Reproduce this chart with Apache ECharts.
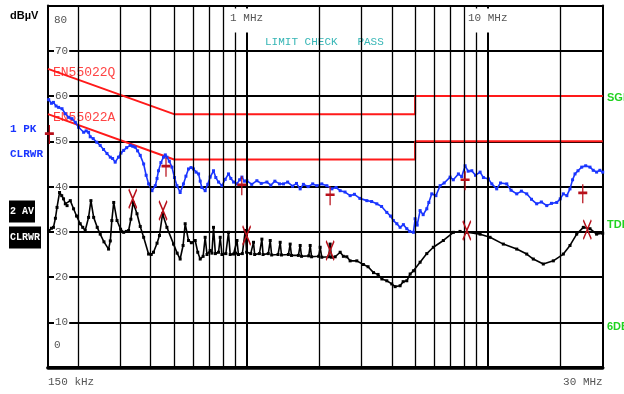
<!DOCTYPE html>
<html>
<head>
<meta charset="utf-8">
<script src="https://cdn.jsdelivr.net/npm/echarts@6/dist/echarts.min.js"></script>
<style>
  html, body { margin: 0; padding: 0; background: #fff; }
  #chart { width: 624px; height: 394px; }
</style>
</head>
<body>
<div id="chart"></div>
<script>
// Frequency in MHz, level in dBµV
const peakTrace = [
  [0.151,59.2],[0.155,58.4],[0.158,58.6],[0.162,57.8],[0.166,57.5],[0.1715,57.2],[0.177,56.1],[0.1826,55.3],
  [0.1887,55.0],[0.1947,54.2],[0.201,53.1],[0.2108,52.0],[0.216,52.3],[0.221,52.0],[0.2245,51.0],[0.231,50.6],
  [0.239,49.8],[0.247,49.1],[0.255,48.2],[0.2635,47.3],[0.272,46.5],[0.278,46.2],[0.285,45.4],[0.294,46.5],
  [0.301,47.4],[0.309,48.0],[0.318,48.6],[0.329,49.1],[0.337,48.9],[0.345,48.7],[0.353,47.9],[0.362,46.9],
  [0.374,45.0],[0.383,42.5],[0.392,40.6],[0.405,39.1],[0.418,40.2],[0.425,41.8],[0.431,43.5],[0.441,45.3],
  [0.452,46.5],[0.46,47.0],[0.467,46.5],[0.478,45.6],[0.490,44.3],[0.502,42.0],[0.514,40.2],[0.530,38.7],
  [0.547,40.6],[0.56,42.3],[0.574,43.9],[0.588,44.2],[0.602,43.9],[0.617,43.2],[0.632,42.8],[0.642,41.2],
  [0.652,39.8],[0.673,39.1],[0.69,40.5],[0.706,42.1],[0.729,43.5],[0.745,42.0],[0.765,41.0],[0.790,40.2],
  [0.815,41.6],[0.841,42.8],[0.86,41.8],[0.883,41.0],[0.912,40.6],[0.935,41.5],[0.956,42.1],[0.98,41.2],
  [1.002,41.3],[1.05,40.5],[1.103,41.3],[1.15,40.7],[1.214,41.0],[1.26,40.3],[1.31,41.2],[1.37,40.6],
  [1.422,40.6],[1.48,41.0],[1.55,40.1],[1.61,40.7],[1.668,39.5],[1.72,40.5],[1.8,40.0],[1.88,40.6],
  [1.956,40.2],[2.05,40.6],[2.152,40.2],[2.258,39.5],[2.35,39.8],[2.444,39.1],[2.56,38.8],[2.688,38.0],
  [2.8,38.3],[2.95,37.4],[3.153,36.9],[3.3,36.7],[3.468,36.2],[3.63,35.6],[3.815,34.3],[3.95,33.5],
  [4.063,32.5],[4.2,31.8],[4.332,31.0],[4.47,31.6],[4.618,30.7],[4.75,30.1],[4.92,29.9],[5.0,32.9],
  [5.1,31.5],[5.244,34.7],[5.4,33.8],[5.59,35.1],[5.7,36.5],[5.862,38.4],[6.1,38.0],[6.348,40.2],
  [6.6,40.8],[6.984,42.1],[7.2,41.5],[7.56,42.8],[7.8,42.2],[8.06,44.6],[8.3,43.4],[8.59,43.5],
  [8.9,42.5],[9.3,43.2],[9.6,42.0],[10.07,41.7],[10.4,40.6],[10.9,39.5],[11.3,40.8],[12.0,40.6],
  [12.5,39.2],[13.2,38.4],[13.8,39.0],[14.52,38.4],[15.2,37.2],[15.97,36.2],[16.7,36.6],[17.58,35.8],
  [18.4,36.3],[19.34,36.5],[20.0,37.3],[20.6,38.4],[21.3,38.0],[21.95,39.5],[22.5,41.5],[23.03,42.8],
  [23.7,43.5],[24.55,44.3],[25.5,44.6],[26.57,44.3],[27.4,43.6],[28.3,43.2],[29.2,43.6],[30,43.2]
];

const avgTrace = [
  [0.1515,30.3],[0.155,30.8],[0.158,31.0],[0.161,33.0],[0.1635,35.4],[0.1675,38.7],[0.171,38.0],[0.174,37.3],
  [0.177,36.2],[0.180,35.8],[0.1856,36.9],[0.1915,35.1],[0.197,33.5],[0.204,31.8],[0.209,31.0],[0.214,30.3],
  [0.221,33.2],[0.226,36.9],[0.232,33.2],[0.24,31.0],[0.247,29.5],[0.256,27.8],[0.2675,26.2],[0.272,28.0],
  [0.276,32.5],[0.281,36.5],[0.290,32.5],[0.30,30.6],[0.309,29.9],[0.317,30.1],[0.324,30.3],[0.331,32.8],
  [0.338,36.5],[0.351,34.0],[0.362,31.2],[0.374,28.8],[0.392,25.1],[0.402,25.0],[0.411,25.5],[0.425,27.5],
  [0.435,29.2],[0.448,34.0],[0.467,31.0],[0.4976,27.3],[0.515,25.3],[0.530,24.0],[0.545,27.0],[0.556,31.8],
  [0.574,28.1],[0.59,27.6],[0.612,28.1],[0.627,25.5],[0.642,24.0],[0.66,24.6],[0.673,28.8],[0.685,25.0],
  [0.706,25.9],[0.718,25.3],[0.729,31.0],[0.742,25.2],[0.765,25.5],[0.777,28.8],[0.79,25.0],[0.82,25.2],
  [0.841,29.9],[0.855,25.0],[0.883,25.1],[0.9,25.3],[0.912,28.1],[0.925,25.0],[0.96,25.2],[0.987,30.3],
  [1.0,25.5],[1.04,25.2],[1.068,27.7],[1.08,25.0],[1.13,25.2],[1.157,28.4],[1.17,25.0],[1.23,25.2],
  [1.253,28.1],[1.27,24.9],[1.35,25.0],[1.378,27.7],[1.395,24.9],[1.49,25.0],[1.516,27.3],[1.535,24.8],
  [1.64,24.8],[1.668,27.0],[1.69,24.6],[1.81,24.7],[1.835,27.0],[1.86,24.5],[1.99,24.6],[2.019,26.6],
  [2.05,24.4],[2.19,24.5],[2.22,27.3],[2.25,24.4],[2.33,24.5],[2.444,25.5],[2.52,24.6],[2.604,24.5],
  [2.688,23.6],[2.865,23.6],[3.05,22.8],[3.19,22.3],[3.36,21.0],[3.51,20.6],[3.64,19.6],[3.815,19.2],
  [4.0,18.5],[4.13,17.9],[4.332,18.1],[4.46,19.0],[4.618,19.2],[4.77,20.7],[4.92,21.4],[5.244,23.3],
  [5.59,25.2],[5.95,26.6],[6.549,28.1],[7.21,29.9],[7.68,30.1],[8.19,29.9],[9.30,29.5],[10.23,28.8],
  [11.61,27.3],[13.2,26.2],[14.52,25.1],[15.46,24.0],[17.01,22.9],[18.72,23.6],[20.6,25.1],[21.95,27.0],
  [23.4,29.5],[24.93,31.0],[26.57,30.7],[28.3,29.5],[30,29.7]
];

// EN55022 class B limit lines
const limitQP = [[0.15,66],[0.5,56],[5,56],[5,60],[30,60]];
const limitAV = [[0.15,56],[0.5,46],[5,46],[5,50],[30,50]];

// Final measurement markers
const qpMarks = [[0.152,51.5],[0.463,44.3],[0.955,40.2],[2.22,38.0],[8.06,41.3],[24.8,38.4]];
const avMarks = [[0.337,37.3],[0.450,34.7],[1.00,29.2],[2.22,25.9],[8.19,30.3],[25.9,30.5]];

// Frequency grid
const minorGrid = [0.2,0.3,0.4,0.5,0.6,0.7,0.8,0.9,2,3,4,5,6,7,8,9,20];
const decadeGrid = [1,10];

const MONO = '"Liberation Mono", "DejaVu Sans Mono", monospace';
const near = (a, b) => Math.abs(a - b) < 1e-6 * Math.max(1, b);

const chart = echarts.init(document.getElementById('chart'), null, { renderer: 'canvas' });

const gridLines = minorGrid.map(f => ({ xAxis: f, lineStyle: { color: '#000', width: 1.3, type: 'solid' } }))
  .concat(decadeGrid.map(f => ({ xAxis: f, lineStyle: { color: '#000', width: 2, type: 'solid' } })));

chart.setOption({
  animation: false,
  backgroundColor: '#fff',
  grid: { left: 48, right: 21.3, top: 5.5, bottom: 26.3, containLabel: false, outerBoundsMode: 'none' },
  xAxis: [
    {
      type: 'log', logBase: 10, min: 0.15, max: 30, position: 'bottom',
      axisLine: { show: true, lineStyle: { color: '#000', width: 3.5 } },
      axisTick: { show: false },
      splitLine: { show: false },
      axisLabel: {
        show: true, showMinLabel: true, showMaxLabel: true, margin: 9,
        color: '#555', fontFamily: MONO, fontSize: 11,
        alignMinLabel: 'left', alignMaxLabel: 'right',
        formatter: v => near(v, 0.15) ? '150 kHz' : near(v, 30) ? '30 MHz' : ''
      }
    },
    {
      type: 'log', logBase: 10, min: 0.15, max: 30, position: 'top', z: 10,
      axisLine: { show: true, lineStyle: { color: '#000', width: 3 } },
      axisTick: { show: false },
      splitLine: { show: false },
      axisLabel: {
        show: true, inside: true, margin: 3,
        color: '#555', fontFamily: MONO, fontSize: 11,
        formatter: v => near(v, 1) ? '{m|1 MHz}' : near(v, 10) ? '{m|10 MHz}' : '',
        rich: { m: { backgroundColor: '#fff', padding: [4, 2, 9, 2], color: '#555', fontFamily: MONO, fontSize: 11 } }
      }
    }
  ],
  yAxis: [
    {
      type: 'value', min: 0, max: 80, interval: 10, position: 'left',
      axisLine: { show: true, lineStyle: { color: '#000', width: 2 } },
      axisTick: { show: false },
      splitLine: { show: true, lineStyle: { color: '#000', width: 2 } },
      axisLabel: {
        show: true, inside: true, margin: 6, color: '#555', fontFamily: MONO, fontSize: 11, lineHeight: 15,
        formatter: v => v === 80 ? '\n\n80' : v === 0 ? '0\n\n\n' : '{n|' + v + '}',
        rich: { n: { backgroundColor: '#fff', padding: [0, 1], color: '#555', fontFamily: MONO, fontSize: 11 } }
      }
    },
    {
      type: 'value', min: 0, max: 80, interval: 10, position: 'right',
      axisLine: { show: true, lineStyle: { color: '#000', width: 2 } },
      axisTick: { show: false }, axisLabel: { show: false }, splitLine: { show: false }
    }
  ],
  series: [
    {
      name: 'grid', type: 'line', data: [], z: 1, silent: true,
      markLine: { silent: true, symbol: ['none', 'none'], label: { show: false }, animation: false,
        lineStyle: { type: 'solid' }, data: gridLines }
    },
    {
      name: 'EN55022Q', type: 'line', data: limitQP, z: 2, showSymbol: false, silent: true,
      lineStyle: { color: '#ff1a1a', width: 2 }
    },
    {
      name: 'EN55022A', type: 'line', data: limitAV, z: 2, showSymbol: false, silent: true,
      lineStyle: { color: '#ff1a1a', width: 2 }
    },
    {
      name: '1 PK', type: 'line', data: peakTrace, z: 3, silent: true,
      showSymbol: true, symbol: 'rect', symbolSize: 3,
      itemStyle: { color: '#1a35ff' }, lineStyle: { color: '#1a35ff', width: 1.6 }
    },
    {
      name: '2 AV', type: 'line', data: avgTrace, z: 3, silent: true,
      showSymbol: true, symbol: 'rect', symbolSize: 3,
      itemStyle: { color: '#000' }, lineStyle: { color: '#000', width: 1.6 }
    },
    {
      name: 'QP final', type: 'scatter', data: qpMarks, z: 5, silent: true,
      symbol: 'path://M5,0 L5,20 M0,9 L10,9', symbolSize: [9, 19],
      itemStyle: { color: 'rgba(0,0,0,0)', borderColor: '#b8101a', borderWidth: 1.8, opacity: 1 }
    },
    {
      name: 'AV final', type: 'scatter', data: avMarks, z: 5, silent: true,
      symbol: 'path://M0,0 L4,10 L0,20 M8,0 L4,10 L8,20', symbolSize: [8, 19],
      itemStyle: { color: 'rgba(0,0,0,0)', borderColor: '#b8101a', borderWidth: 1.8, opacity: 1 }
    }
  ],
  graphic: [
    { type: 'text', x: 10, y: 15.5, style: { text: 'dBµV', font: 'bold 11px "Liberation Sans"', fill: '#000', verticalAlign: 'middle' } },
    { type: 'text', x: 10, y: 129.5, style: { text: '1 PK', font: 'bold 11px ' + MONO, fill: '#1a35ff', verticalAlign: 'middle' } },
    { type: 'text', x: 10, y: 154.5, style: { text: 'CLRWR', font: 'bold 11px ' + MONO, fill: '#1a35ff', verticalAlign: 'middle' } },
    { type: 'text', x: 9, y: 211.5, style: { text: '2 AV', font: 'bold 10px ' + MONO, fill: '#fff', backgroundColor: '#000', padding: [6, 1, 6, 1], verticalAlign: 'middle' } },
    { type: 'text', x: 9, y: 237.5, style: { text: 'CLRWR', font: 'bold 10px ' + MONO, fill: '#fff', backgroundColor: '#000', padding: [6, 1, 6, 1], verticalAlign: 'middle' } },
    { type: 'text', x: 265, y: 42, style: { text: 'LIMIT CHECK   PASS', font: '11px ' + MONO, fill: '#35b5b5', verticalAlign: 'middle' } },
    { type: 'text', x: 53, y: 72.5, style: { text: 'EN55022Q', font: '13px ' + MONO, fill: '#ff4444', verticalAlign: 'middle' } },
    { type: 'text', x: 53, y: 118, style: { text: 'EN55022A', font: '13px ' + MONO, fill: '#ff4444', verticalAlign: 'middle' } },
    { type: 'text', x: 607, y: 98, style: { text: 'SGL', font: 'bold 11px "Liberation Sans"', fill: '#1fd21f', verticalAlign: 'middle' } },
    { type: 'text', x: 607, y: 224.5, style: { text: 'TDF', font: 'bold 11px "Liberation Sans"', fill: '#1fd21f', verticalAlign: 'middle' } },
    { type: 'text', x: 607, y: 326.5, style: { text: '6DB', font: 'bold 11px "Liberation Sans"', fill: '#1fd21f', verticalAlign: 'middle' } }
  ]
});
</script>
</body>
</html>
